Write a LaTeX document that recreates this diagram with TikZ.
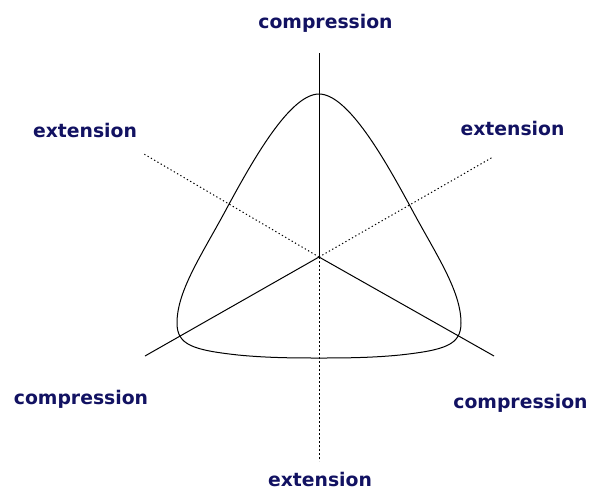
\documentclass[tikz,border=0pt]{standalone}
\usepackage{fontspec}
\setmainfont{DejaVu Sans}
\usepackage{xcolor}
\definecolor{lbl}{RGB}{18,18,98}

\begin{document}
\begin{tikzpicture}[x=1pt,y=-1pt,line width=1pt,
  tag/.style={text=lbl,font=\fontsize{18.8}{20}\selectfont\bfseries,anchor=base,inner sep=0pt},
  dotline/.style={dash pattern=on 1.3pt off 2.5pt},
  dashline/.style={dash pattern=on 2.4pt off 1.6pt}]
\useasboundingbox (0,0) rectangle (592,493);
% axes
\coordinate (o) at (319,257);
\coordinate (n) at (319,53);
\coordinate (s) at (319,461);
\coordinate (sw) at (145,356);
\coordinate (se) at (494,356);
\coordinate (nw) at (144,154);
\coordinate (ne) at (493,157);
\draw (o) -- (n);
\draw (o) -- (sw);
\draw (o) -- (se);
\draw[dotline] (o) -- (nw);
\draw[dotline] (o) -- (ne);
\draw[dashline] (o) -- (s);
% curved triangle
\draw (319,94) .. controls (348,94) and (385,160) .. (410,206)
  .. controls (435,253) and (461,290) .. (461,323)
  .. controls (461,345) and (445,350) .. (400,355)
  .. controls (370,358) and (340,358) .. (319,358)
  .. controls (298,358) and (268,358) .. (238,355)
  .. controls (193,350) and (177,345) .. (177,323)
  .. controls (177,290) and (203,253) .. (228,206)
  .. controls (253,160) and (290,94) .. (319,94);
% labels
\node[tag] (ctop) at (325.5,28){compression};
\node[tag] (ebot) at (320,486){extension};
\node[tag] (eleft) at (85,137){extension};
\node[tag] (eright) at (512.5,135){extension};
\node[tag] (cleft) at (81,404){compression};
\node[tag] (cright) at (520.5,408){compression};
\end{tikzpicture}
\end{document}
